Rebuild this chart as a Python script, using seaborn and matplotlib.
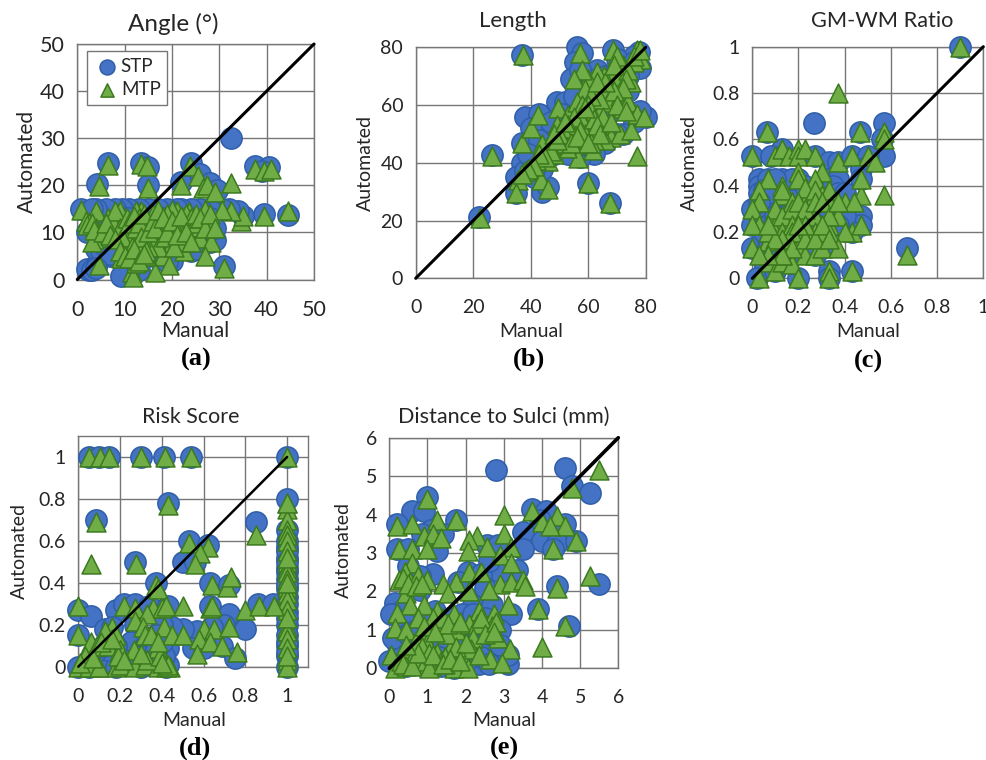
import matplotlib
matplotlib.use("Agg")
import matplotlib.pyplot as plt
import seaborn as sns
import pandas as pd

sns.set_theme(style="white")
plt.rcParams['font.family'] = ['Lato', 'DejaVu Sans']

STP_COLOR = "#4472C4"; STP_EDGE = "#2F5FA8"
MTP_COLOR = "#70AD47"; MTP_EDGE = "#3B7A1E"
GRID = "#767676"

# ---- (a) Angle
a_stp_x = [32.5,6.5,13.5,15,4.2,15,22,24,26,28,29.5,37.5,40.5,39,39.5,44.5,35,34,32,30.5,28,26,24,22,21,19,17,15,13,11,9.5,8,6,4,0.7,3,2,5,6,8,10,12,14,16,18,20,22,24,26,28,29,27,23,20,19,16,13,11,9,7,5,2.5,2,4,9.2,31,12,27,23,17,14,10,
           4,5,6,7,3,4,8,9,10,11,13,15,17,18,19,21,22,24,25,26,28,29,16,12,14,20,20,24]
a_stp_y = [30,24.8,24.8,23.8,20.3,20,20.8,24.8,22.5,20.5,19,24,23.8,23,14,13.8,13.5,14.5,15,15,15,15,15,15,15,15,15,15,15,15,15,15,15,15,15,15,10,10,6.5,6,6,8,8,10,10,8,7,6,8,8,8.3,11,10,4,3.8,5,2,2,8,5,5.5,2,2.2,3,0.8,2.8,4,12,12,12,11,11,
           6.5,6,7,5.5,2,2.5,11,9,13,13,9,13,11,13,7,13,12,13,6.5,12,13,11,9,6,7,12,10,9]
a_mtp_x = [0.7,4,1.8,4.5,6.5,13.5,14.8,15,22,23.8,25.5,26.5,27.5,29,32.5,37.5,39.5,41,44.5,39.5,34.5,35,32.5,30.5,27,28,23.5,23,21,20,19,17,17.5,13.5,12.5,9,8.5,7,5,3.5,2.5,4,12,15.7,17.5,21.5,24,26,28.3,20,22.5,27,18,19.3,16.5,11.5,11.8,12.5,9.3,14.5,10,4.5,31,17,13,11,16,22.5,25,8,10.5,13,15,24,6,3,
           2,3,3.5,5.5,6.5,7.5,8,9,9.5,10.5,11,11.5,12,12.5,13,13.5,14,14.5,15,16,16.5,17,18,18.5,19,20,20.5,21,22,23,24,25,26,27,28,29,6,7,8,9,10,11,12,13,14]
a_mtp_y = [14.8,14.5,12.5,19.8,24.3,24.5,24,19.5,20,24,22,19.5,20,18.5,20.5,23.5,23,23.5,14.5,13.5,12.5,13.5,14.5,14.8,14.8,11.8,14.3,14,14.5,14.8,14,14.3,13,14.5,14.5,14.5,13,11.5,9,8.5,12,11,10,8.8,11.5,11,11.2,8.8,8,7.5,6,5,5,3,1.5,1.5,0.5,3.5,4.5,5,7.5,3,2.5,7,6,9,14,8,12,10,6,13,7,13,10,8,
           11.5,12,10.5,10,13,12,14.5,11,9,13,12,7,13.5,11,12,9,14,6,10,12.5,11,14.8,13,9,10,12.5,7,9.5,13.5,10,8,14,13,11,14,11,12,9.5,8.5,6,5,4.5,6.5,4,5.5]

# ---- (b) Length
b_stp_x = [56,58,77.5,68.5,37,55.5,78,54,63,76,72,70,66,60,57,59,38,43,41,49,52,40,37,37,35,41,44,46,35,60,67.5,26.5,22,80,78,76,72,70,66,62,57,56,52,48,45,42,47,50,54,58,62,65,68,71,74,55,59,63,67,70,61,53,49,44,38,
           74,76,70,67,60,64,55,58,51,47,43,39,41,46,50,53,60,65]
b_stp_y = [80,78,78.5,79,77.5,75,73,69,72,77,74,76,70,69,72,65,56,57,52,61,61,52,47,40,35,35,30,31.5,29.5,33,26,42.7,21.3,56,58,54,50,50,47,43,42,47,45,43,46,41,50,54,56,60,62,64,66,68,65,52,55,58,57,60,50,50,47,38,37,
           70,75,72,66,62,68,63,50,57,54,48,43,38,42,45,43,46,51]
b_mtp_x = [37.2,57,68.5,77,78.5,76,75,72,70,68,65.5,63,60,58,55,59,63,66,67,71,72,74,70,71,49.5,53,56,58,60,64,59,55,52,66,68,71,75,77,79.5,77,66,62,57.5,61.5,56.5,52.5,47.5,46,44,42,40,38,43.5,35.5,46,35,60,67.5,26.5,22.5,37,40,42.5,49,51,56,54,48,58,62,
           74,76,78,73,72,69,64,61,60,57,55,53,51,50,54,59,62,65,61,57,63,64,47,49,45,43,41,39,37,48,52,56,59,60,68,70,73,66,63,69]
b_mtp_y = [77.5,78,79,79,76,75,68,74,77,71,70,71.5,69,72,69,65.5,66,64,61,63,59,61,68,70,59,56.5,61,60,57.5,57.5,53,52,50,53,49,50,51.5,57,56,42.3,48,48,46.5,44.5,41.5,45,46,40.5,46.5,41,38,37,34,34,31,29.5,33,26,42.5,21,47,52,56.5,53,47,50,48,43,55,51,
           72,77,79,69,66,65,62,63,60,56,56,53,52,50,47,50,55,56,47,51,53,50,44,48,42,43,39,38,36,50,54,49,59,47,54,60,58,68,68,74]

# ---- (c) GM-WM Ratio
c_stp_x = [0.9,0.265,0.57,0.065,0.465,0.56,0.57,0,0.13,0.08,0.27,0.33,0.37,0.43,0.5,0.47,0.47,0.03,0.03,0.07,0.13,0.2,0.33,0.37,0.03,0,0,0,0.67,0.47,0.47,0.43,0.4,0.07,0.3,0.05,0.02,0.1,0.2,0.33,0.33,0.43,0.13,0.27,0.1,0.17,0.23,0.3,0.13,0.2,0.27,0.1,0.17,0.23,0.3,0.13,0.2,
           0.05,0.07,0.1,0.03,0.07,0.1,0.17,0.23,0.27,0.3,0.35,0.37,0.4,0.17,0.1,0.07,0.03,0.4,0.33,0.37,0.07,0.13,0.2,0.27,0.05,0.1,0.17]
c_stp_y = [1,0.67,0.67,0.63,0.63,0.6,0.53,0.53,0.56,0.53,0.53,0.5,0.5,0.53,0.53,0.47,0.43,0.43,0.4,0.43,0.43,0.43,0.43,0.43,0.37,0.3,0.23,0.13,0.13,0.27,0.23,0.2,0.33,0.17,0.13,0.07,0,0.03,0,0.03,0,0.03,0.07,0.1,0.33,0.33,0.33,0.33,0.27,0.27,0.27,0.2,0.2,0.2,0.2,0.13,0.13,
           0.38,0.3,0.37,0.27,0.23,0.27,0.37,0.4,0.37,0.4,0.4,0.37,0.37,0.43,0.43,0.37,0.33,0.27,0.3,0.23,0.13,0.17,0.17,0.13,0.2,0.1,0.1]
c_mtp_x = [0.9,0.37,0.065,0.465,0.57,0.57,0,0.1,0.13,0.16,0.2,0.2,0.23,0.27,0.37,0.43,0.5,0.53,0.57,0.47,0.47,0.3,0.2,0.2,0.07,0.13,0.13,0.27,0.03,0.03,0,0.17,0.23,0.23,0.3,0.33,0.27,0.4,0.44,0.1,0.03,0,0.1,0.13,0.2,0.27,0.33,0.37,0.43,0.47,0.4,0.33,0.27,0.2,0.1,0.07,0,0.13,0.2,0.23,0.27,0.3,0.37,0.07,0.1,0.13,0.17,0.03,0.2,0.33,0.33,0.43,0.67,
           0.13,0.17,0.23,0.27,0.33,0.1,0.13,0.17,0.2,0.23,0.27,0.3,0.33,0.37,0.07,0.13,0.17,0.23,0.3,0.17,0.13,0.1,0.07,0.13,0.17,0.23,0.27,0.13,0.07,0.03,0.2,0.3,0.33]
c_mtp_y = [1,0.8,0.63,0.63,0.63,0.6,0.53,0.53,0.56,0.53,0.56,0.53,0.56,0.53,0.5,0.53,0.53,0.5,0.36,0.36,0.43,0.46,0.46,0.43,0.43,0.4,0.36,0.43,0.38,0.33,0.3,0.33,0.36,0.33,0.36,0.33,0.36,0.33,0.33,0.27,0.23,0.23,0.23,0.23,0.26,0.27,0.23,0.27,0.2,0.23,0.2,0.2,0.2,0.2,0.2,0.16,0.13,0.13,0.13,0.1,0.1,0.13,0.13,0.07,0.03,0.07,0.06,0,0,0.03,0,0.03,0.1,
           0.38,0.33,0.39,0.38,0.38,0.3,0.27,0.3,0.33,0.3,0.33,0.33,0.27,0.33,0.2,0.2,0.23,0.23,0.2,0.2,0.17,0.17,0.23,0.1,0.13,0.17,0.17,0.1,0.1,0.1,0.23,0.23,0.17]

# ---- (d) Risk Score
d_stp_x = [0.05,0.1,0.145,0.3,0.41,0.54,1,1,0.085,0.43,0.85,1,1,1,1,1,0.53,0.62,0.27,0.5,0.56,0.37,0.63,0.72,1,1,0,0.06,0.18,0.22,0.27,0.34,0.43,0.63,0.86,0.93,0.72,0.8,0.7,0.64,0.57,0.5,0.45,0.4,0.27,0.13,0.16,0,0.35,0.43,0.55,0.6,0.69,0.75,1,1,1,1,1,0,0.05,0.1,0.18,0.3,0.42,0.43,0.2,0.36,0.14,0.25,
           1,1,1,1,1,1,1,1,1,1,0.32,0.37,0.3,0.41,0.08,0.12,0.18,0.05,0.22,0.28,0.37,0.4]
d_stp_y = [1,1,1,1,1,1,1,0.8,0.7,0.78,0.69,0.65,0.6,0.57,0.52,0.47,0.6,0.58,0.5,0.5,0.5,0.4,0.4,0.39,0.37,0.33,0.27,0.24,0.27,0.3,0.3,0.29,0.29,0.29,0.3,0.3,0.25,0.18,0.2,0.19,0.17,0.18,0.19,0.2,0.2,0.18,0.19,0.15,0.09,0.09,0.09,0.09,0.1,0.04,0.2,0.15,0.1,0.05,0,0,0,0.03,0,0,0,0.01,0.05,0.02,0.08,0.12,
           0.55,0.5,0.45,0.42,0.39,0.3,0.26,0.23,0.12,0.07,0.1,0.15,0.05,0.05,0.07,0.1,0.1,0.03,0.03,0.03,0.08,0.12]
d_mtp_x = [0.05,0.105,0.145,0.3,0.417,0.54,1,1,1,1,1,1,1,1,1,1,1,1,1,1,1,1,1,1,1,1,1,0.43,0.085,0.85,0.53,0.62,0.585,0.56,0.06,0.275,0.37,0.38,0.64,0.71,0.73,0,0.22,0.27,0.36,0.4,0.42,0.5,0.63,0.64,0.8,0.865,0.935,0.33,0.27,0.31,0.32,0.41,0,0.16,0.13,0.18,0.45,0.5,0.6,0.65,0.72,0.06,0.09,0.14,0.2,0.265,0.38,0.58,0.63,0.69,0.76,0.57,0.03,0,0.05,0.1,0.18,0.2,0.27,0.32,0.38,0.42,0.44,0.1,0.2,
           1,1,1,1,1,1,0.01,0.11,0.19,0.22,0.33,0.35,0.39,0.43,0.16,0.3,0.07,0.38,0.4]
d_mtp_y = [1,1,1,1,1,1,1,0.78,0.75,0.7,0.65,0.63,0.6,0.55,0.5,0.47,0.45,0.38,0.35,0.32,0.27,0.19,0.17,0.13,0.09,0.03,0,0.77,0.69,0.63,0.59,0.57,0.54,0.49,0.49,0.49,0.39,0.37,0.39,0.38,0.43,0.29,0.29,0.28,0.28,0.28,0.29,0.29,0.28,0.29,0.27,0.29,0.29,0.25,0.22,0.19,0.15,0.19,0.15,0.19,0.17,0.15,0.15,0.15,0.18,0.18,0.19,0.12,0.1,0.1,0.08,0.08,0.09,0.13,0.12,0.1,0.07,0.06,0.05,0,0,0,0,0.01,0,0.01,0,0,0,0,0.08,
           0.78,0.52,0.42,0.4,0.23,0.05,0.02,0.12,0.05,0.03,0.03,0.15,0.05,0.01,0.13,0.06,0.04,0.12,0.02]

# ---- (e) Distance to Sulci
e_stp_x = [2.8,4.6,4.8,5.25,1,0.6,0.9,3.75,4.1,3.95,4.6,0.2,1.75,1.1,1.4,0.85,3.5,4.0,3.5,4.4,4.3,4.9,0.2,0.5,1.25,2.55,2.85,0.5,3.35,2.9,1.15,2.05,2.4,0.8,1.8,0.8,2.5,4.4,5.5,2.6,3.9,0.15,0.3,0.05,1.2,2.2,2.7,3.2,2.1,2.9,4.7,0.2,0.5,1.2,0,0.45,0.9,1.1,1.35,1.7,2.05,2.35,2.7,3.1,3.1,2.1,1.6,0.7,2.4,1.9,0.3,2.9,
           0.4,0.7,1,1.3,1.6,1.9,2.2,2.5,0.6,1.1,1.5,2.6,0.9,1.3,1.8,2.4,0.1,0.5,0.9,1.5,2,2.6]
e_stp_y = [5.15,5.2,4.75,4.55,4.45,4.1,4.1,4.15,4.1,3.85,3.75,3.75,3.85,3.6,3.5,3.5,3.55,3.3,3.1,3.25,3.1,3.3,3.1,3.1,3.05,3.2,3.2,2.65,2.55,2.5,2.45,2.5,2.45,2.4,2.25,2.05,2.1,2.15,2.2,2.8,1.55,1.7,1.5,1.4,1.5,1.65,1.65,1.4,1.3,1.0,1.1,0.65,0.55,0.7,0.2,0.05,0.05,0.05,0.05,0,0.05,0.1,0.3,0.1,0.35,0.9,1.1,1.0,0.5,0.6,0.3,0.6,
           1.2,1.0,1.3,1.2,1.3,1.4,1.4,1.3,0.6,0.6,0.5,0.9,0.3,0.3,0.3,0.3,0.8,0.9,0.1,0.2,0.2,0.1]
e_mtp_x = [5.5,4.8,1,3,3.75,4.4,4.6,4,4.2,0.2,0.6,1.25,1.75,0.9,1.15,1.35,2.3,2.1,3,2.05,0.25,0.6,1,2.55,3.2,4.3,4.9,2.9,0.6,3.2,0.4,0.25,0.55,0.75,1,1.4,1.75,2.1,2.4,5.25,2.9,3.2,3.5,3.55,4.4,2.6,1.55,2.1,0.45,0.55,0.9,3.1,3.9,0.2,0.75,1.25,1.7,2.35,2.75,0.15,0.45,1.3,1.75,2.1,2.3,2.7,4.6,0.9,1.0,2.2,2.85,3.15,4,0.05,0.55,0.6,1.0,1.25,1.6,1.9,2.15,2.65,2.95,0.15,0.45,1.35,1.7,2.05,1.1,0.3,0.8,1.5,0.95,1.45,
           0.35,0.5,0.7,0.85,1.15,1.4,1.55,1.85,2.4,2.5,0.7,0.85,1.05,1.45,1.75,2.0,0.35,0.6,0.75,1.05,1.15,1.4,1.6,1.85,2.35,0.45,0.9,1.2,2.8,2.75]
e_mtp_y = [5.15,4.7,4.4,4,4.1,3.95,3.7,3.8,3.7,3.7,3.75,3.85,3.85,3.45,3.5,3.4,3.45,3.35,3.5,3.05,3.1,3.1,3.1,3.15,3.15,3.1,3.3,2.95,2.75,2.75,2.5,2.3,2.25,2.4,2.3,2.2,2.25,2.5,2.5,2.4,2.2,2.25,2.3,2.15,2.1,2.05,1.95,2.0,1.95,1.65,1.65,1.65,1.55,1.45,1.3,1.5,1.4,1.5,1.4,1.05,1.0,1.1,1.0,1.15,1.15,1.1,1.1,0.85,0.65,0.8,0.8,0.5,0.55,0.35,0.4,0.25,0.2,0.4,0.5,0.35,0.5,0.25,0.15,0,0.05,0.2,0,0,0.05,0.2,0.1,0.9,0.2,0.1,
           2.35,2.2,2.15,2.2,1.3,1.3,1.15,1.2,1.3,0.9,0.7,0.55,0.4,0.3,0.55,0.65,0.1,0.05,0.4,0,0.35,0.1,0.25,0.2,0.35,0.6,1.1,0.95,1.2,0.95]

# ---- panel texts, ticks
titles = ["Angle (°)", "Length", "GM-WM Ratio", "Risk Score", "Distance to Sulci (mm)"]
tags = ["(a)", "(b)", "(c)", "(d)", "(e)"]
a_ticks = [0, 10, 20, 30, 40, 50]
b_ticks = [0, 20, 40, 60, 80]
frac_ticks = [0, 0.2, 0.4, 0.6, 0.8, 1]
e_ticks = [0, 1, 2, 3, 4, 5, 6]
a_labels = ["0", "10", "20", "30", "40", "50"]
b_labels = ["0", "20", "40", "60", "80"]
frac_labels = ["0", "0.2", "0.4", "0.6", "0.8", "1"]
e_labels = ["0", "1", "2", "3", "4", "5", "6"]

W, H = 987, 760
fig = plt.figure(figsize=(W / 100, H / 100), dpi=100)

def px_axes(l, t, r, b):
    return fig.add_axes([l / W, 1 - b / H, (r - l) / W, (b - t) / H])

def px_text(x, y, s, **kw):
    fig.text(x / W, 1 - y / H, s, ha="center", va="center", **kw)

def panel(box, lim, xt, xl, yt, yl, sx, sy, mx, my, diag, lw, ticksz):
    ax = px_axes(*box)
    frame = pd.DataFrame({"x": sx, "y": sy})
    sns.scatterplot(data=frame, x="x", y="y", marker="o", s=235, color=STP_COLOR,
                    edgecolor=STP_EDGE, linewidth=1.1, clip_on=False, ax=ax, zorder=3, label="STP")
    frame = pd.DataFrame({"x": mx, "y": my})
    sns.scatterplot(data=frame, x="x", y="y", marker="^", s=185, color=MTP_COLOR,
                    edgecolor=MTP_EDGE, linewidth=1.1, clip_on=False, ax=ax, zorder=4, label="MTP")
    sns.lineplot(x=[0, diag], y=[0, diag], color="black", linewidth=lw, ax=ax, zorder=5,
                 solid_capstyle="round", clip_on=False, legend=False)
    ax.set_xlim(lim[0], lim[1]); ax.set_ylim(lim[2], lim[3])
    ax.set_xticks(xt, xl); ax.set_yticks(yt, yl)
    ax.grid(True, color=GRID, linewidth=1.0)
    ax.set_axisbelow(True)
    for sp in ax.spines.values():
        sp.set_color(GRID); sp.set_linewidth(1.0); sp.set_visible(True); sp.set_zorder(1)
    ax.tick_params(length=0, labelsize=ticksz, labelcolor="#262626")
    ax.tick_params(axis="x", pad=15)
    ax.tick_params(axis="y", pad=9)
    ax.set_xlabel(""); ax.set_ylabel("")
    return ax

axs = []
axs.append(panel((77.3, 44, 314, 279.5), (0, 50, 0, 50), a_ticks, a_labels, a_ticks, a_labels,
                 a_stp_x, a_stp_y, a_mtp_x, a_mtp_y, 50, 2.2, 15.5))
axs.append(panel((415.7, 47.3, 645.7, 278.3), (0, 80, 0, 80), b_ticks, b_labels, b_ticks, b_labels,
                 b_stp_x, b_stp_y, b_mtp_x, b_mtp_y, 80, 2.2, 14))
axs.append(panel((752.3, 46.7, 983.3, 278.3), (0, 1, 0, 1), frac_ticks, frac_labels, frac_ticks, frac_labels,
                 c_stp_x, c_stp_y, c_mtp_x, c_mtp_y, 1, 2.2, 14))
axs.append(panel((78.3, 436, 308, 666.7), (0, 1.1, 0, 1.1), frac_ticks, frac_labels, frac_ticks, frac_labels,
                 d_stp_x, d_stp_y, d_mtp_x, d_mtp_y, 1, 1.8, 14))
axs.append(panel((389.3, 437.7, 618.3, 668.3), (0, 6, 0, 6), e_ticks, e_labels, e_ticks, e_labels,
                 e_stp_x, e_stp_y, e_mtp_x, e_mtp_y, 6, 2.6, 14))

for ax in axs[1:]:
    ax.get_legend().remove()
leg = axs[0].legend(loc="upper left", bbox_to_anchor=(0.041, 0.97), frameon=True, fancybox=False,
                    edgecolor=GRID, facecolor="white", framealpha=1, fontsize=13.5,
                    labelspacing=0.35, handletextpad=0.05, borderpad=0.35, borderaxespad=0,
                    handlelength=1.4, markerscale=0.7)
leg.set_zorder(6)
leg.get_frame().set_linewidth(1.0)

TXT = "#262626"
px_text(173, 24, titles[0], fontsize=17.5, color=TXT)
px_text(513, 21, titles[1], fontsize=16, color=TXT)
px_text(882, 21, titles[2], fontsize=15.7, color=TXT)
px_text(191, 417, titles[3], fontsize=15.4, color=TXT)
px_text(504, 417, titles[4], fontsize=15.6, color=TXT)

px_text(195, 331, "Manual", fontsize=15, color=TXT)
px_text(531, 331, "Manual", fontsize=14, color=TXT)
px_text(868, 331, "Manual", fontsize=14, color=TXT)
px_text(194, 720, "Manual", fontsize=14, color=TXT)
px_text(504, 720, "Manual", fontsize=14, color=TXT)

px_text(27, 161, "Automated", fontsize=15, color=TXT, rotation=90)
px_text(365, 163, "Automated", fontsize=14, color=TXT, rotation=90)
px_text(689, 163, "Automated", fontsize=14, color=TXT, rotation=90)
px_text(19, 551, "Automated", fontsize=14, color=TXT, rotation=90)
px_text(343, 550, "Automated", fontsize=14, color=TXT, rotation=90)

for (x, y), tag in zip([(196, 359), (529, 359), (868, 361), (195, 748), (504, 748)], tags):
    px_text(x, y, tag, fontsize=19, fontweight="bold", family="Liberation Serif", color="black")

fig.savefig("out.png", dpi=100, facecolor="white")
